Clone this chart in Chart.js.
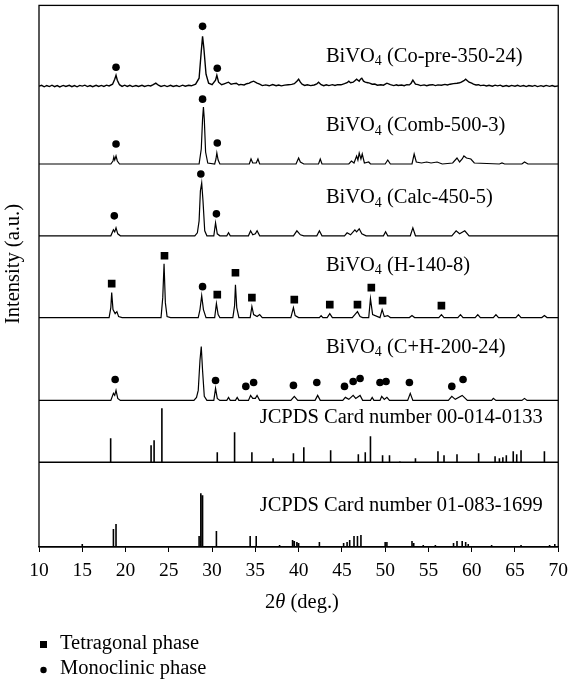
<!DOCTYPE html>
<html>
<head>
<meta charset="utf-8">
<script src="https://cdn.jsdelivr.net/npm/chart.js@4.4.0/dist/chart.umd.min.js"></script>
<style>
  html, body { margin: 0; padding: 0; background: #fff; }
  #wrap { width: 575px; height: 684px; }
</style>
</head>
<body>
<div id="wrap"><canvas id="chart" width="575" height="684"></canvas></div>
<script>
// 2θ / relative intensity pairs, one array per sample
const coPre = [[10,0],[10.3,0.9],[10.6,-0.6],[10.9,0.7],[11.2,-0.4],[11.5,1],[11.8,-0.5],[12.1,0.6],[12.4,-0.7],[12.8,0.8],[13.1,-0.3],[13.5,0.9],[13.8,-0.5],[14.1,0.6],[14.4,-0.6],[14.7,0.8],[15,0.1],[15.3,1],[15.6,-0.4],[15.9,0.7],[16.2,-0.5],[16.6,0.9],[16.9,-0.3],[17.2,0.8],[17.5,-0.2],[17.8,1],[18.1,0.3],[18.5,2],[18.75,7],[18.9,11],[19.05,6],[19.3,1.5],[19.6,-0.2],[19.9,1],[20.2,-0.3],[20.5,0.9],[20.8,-0.4],[21.2,0.7],[21.5,-0.3],[21.9,0.9],[22.2,-0.2],[22.6,0.8],[22.9,0.2],[23.2,1.5],[23.5,3],[23.8,1],[24.1,-0.2],[24.5,0.8],[24.8,-0.4],[25.2,0.9],[25.5,-0.3],[25.9,0.7],[26.2,-0.4],[26.6,1],[26.9,0],[27.3,0.9],[27.6,0.4],[28.1,2],[28.5,8],[28.75,35],[28.9,50],[29.05,38],[29.3,12],[29.6,3],[30.0,1.5],[30.4,6],[30.55,11],[30.75,4],[31.1,1.5],[31.4,2.4],[31.6,3],[31.9,4],[32.2,2],[32.5,2.6],[32.8,3],[33.1,1.2],[33.3,1.8],[33.7,1.2],[34.0,2.5],[34.3,3],[34.5,4],[34.8,5],[35.2,3],[35.5,2],[35.8,0.6],[36.2,1.3],[36.6,0.4],[37,1.6],[37.4,0.5],[37.7,1.2],[38,0.3],[38.4,1.1],[38.8,1.5],[39.2,1.8],[39.5,2.5],[39.8,5],[40.0,7],[40.2,4],[40.4,2],[40.7,0.8],[41,1.4],[41.4,0.6],[41.8,1.2],[42.1,2.2],[42.3,4],[42.6,1.5],[42.9,0.5],[43.2,1.4],[43.5,0.6],[43.9,1.5],[44.2,0.7],[44.5,1.6],[44.9,1.4],[45.3,2.5],[45.6,3.5],[45.8,5],[46.0,3.5],[46.3,4],[46.5,5.5],[46.7,7],[47.0,5],[47.15,7],[47.3,8],[47.5,5],[47.7,4],[48.0,3.5],[48.2,3],[48.5,2],[48.8,2.2],[49.1,1],[49.5,1.5],[49.8,1],[50.2,3],[50.6,1.5],[51.0,0.6],[51.3,1.4],[51.5,0.7],[51.9,1.2],[52.2,0.5],[52.5,1.5],[52.8,1.3],[53.0,3],[53.2,6],[53.5,2],[53.8,1.6],[54.1,0.6],[54.5,1.3],[54.8,0.5],[55.1,1.2],[55.5,1.5],[55.8,0.6],[56.1,1.3],[56.5,1],[56.9,1.8],[57.2,1.2],[57.5,2],[57.9,2.6],[58.3,3],[58.6,3.5],[58.8,4],[59.1,5.5],[59.3,7],[59.5,5.5],[59.7,4],[60.0,3],[60.2,2],[60.5,1.2],[60.8,1.5],[61,0.6],[61.4,1.1],[61.7,0.2],[62,0.9],[62.4,0],[62.7,1],[63,0.3],[63.3,1],[63.6,-0.2],[64,0.6],[64.3,-0.3],[64.6,0.8],[65,0],[65.3,0.9],[65.6,-0.2],[66,0.6],[66.3,-0.4],[66.6,0.7],[67,-0.1],[67.3,0.8],[67.6,-0.4],[68,0.5],[68.3,-0.3],[68.6,0.8],[69,-0.2],[69.3,0.6],[69.6,-0.3],[70,0.3]];
const comb = [[10,0],[18.3,0],[18.55,3],[18.65,7],[18.75,4],[18.9,8],[19.05,3],[19.3,0],[28.5,0],[28.75,15],[28.9,45],[29.0,57],[29.1,45],[29.25,12],[29.5,1],[30.3,0],[30.45,5],[30.55,11],[30.7,4],[30.9,0],[34.3,0],[34.5,5],[34.7,1],[35.1,1],[35.3,5],[35.5,0],[39.7,0],[40.0,6],[40.2,2],[40.6,0],[42.3,0],[42.5,5],[42.7,0],[45.8,0],[46.1,3],[46.4,1],[46.7,8],[46.85,4],[47.0,11],[47.2,5],[47.35,10],[47.6,1],[48.1,2],[48.3,0],[50.0,0],[50.3,4],[50.6,0],[53.1,0],[53.35,10],[53.6,2],[54.2,1],[54.8,2],[55.3,1],[56,2],[56.6,0],[57.8,1],[58.3,6],[58.6,2],[58.9,5],[59.1,8],[59.4,6],[59.9,5],[60.3,1],[63.2,0],[63.5,1],[63.8,0],[65.8,0],[66.1,2],[66.5,0],[70,0]];
const calc = [[10,0],[18.3,0],[18.6,6],[18.75,4],[18.9,8],[19.1,2],[19.4,0],[28.0,0],[28.3,3],[28.5,15],[28.65,45],[28.8,53],[28.95,35],[29.15,5],[29.4,0],[30.2,0],[30.4,13],[30.6,2],[30.9,0],[31.7,0],[31.9,3],[32.1,0],[34.2,0],[34.45,5],[34.7,1],[35.0,2],[35.2,5],[35.5,0],[39.4,0],[39.8,5],[40.2,1],[40.6,0],[42.1,0],[42.4,5],[42.7,0],[45.3,0],[45.6,3],[46.0,1],[46.5,6],[46.7,4],[47.0,7],[47.3,2],[47.8,0],[49.8,0],[50.05,4],[50.3,0],[52.9,0],[53.2,8],[53.5,0],[57.7,0],[58.2,5],[58.6,2],[59.2,5],[59.7,0],[70,0]];
const hydro = [[10,0],[18.1,0],[18.3,10],[18.4,25],[18.55,8],[18.8,4],[19.0,6],[19.2,1],[19.6,0],[24.1,0],[24.3,20],[24.45,54],[24.6,15],[24.8,1],[25.2,0],[28.4,0],[28.6,8],[28.8,22],[29.0,8],[29.3,0],[30.3,0],[30.5,14],[30.7,3],[30.9,0],[32.4,0],[32.6,12],[32.7,33],[32.85,10],[33.1,0],[34.4,0],[34.6,11],[34.8,3],[35.2,1],[35.5,3],[35.8,0],[39.1,0],[39.4,10],[39.6,2],[40.0,0],[42.4,0],[42.6,2],[42.8,0],[43.3,0],[43.6,4],[43.9,0],[46.2,0],[46.5,3],[46.8,6],[47.1,1],[47.4,0],[48.1,0],[48.3,19],[48.55,3],[49.4,0],[49.65,8],[49.9,1],[50.3,2],[50.6,0],[52.8,0],[53.1,2],[53.4,0],[56.2,0],[56.5,3],[56.8,0],[58.4,0],[58.7,3],[59.0,0],[60.4,0],[60.7,3],[61.0,0],[62.5,0],[62.8,3],[63.1,0],[65.1,0],[65.4,3],[65.7,0],[68.1,0],[68.4,2],[68.7,0],[70,0]];
const combHydro = [[10,0],[18.3,0],[18.6,7],[18.75,5],[18.9,10],[19.1,2],[19.4,0],[27.9,0],[28.2,3],[28.4,10],[28.6,40],[28.75,54],[28.9,30],[29.1,4],[29.4,0],[30.2,0],[30.4,12],[30.6,2],[30.9,0],[31.7,0],[31.9,3],[32.1,0],[32.7,0],[32.9,3],[33.1,0],[34.2,0],[34.45,5],[34.7,2],[35.0,2],[35.2,5],[35.5,0],[39.1,0],[39.5,4],[39.9,0],[41.9,0],[42.2,5],[42.5,0],[45.1,0],[45.4,3],[45.8,1],[46.3,5],[46.6,2],[47.1,5],[47.4,0],[48.3,0],[48.5,3],[48.7,0],[49.4,0],[49.6,4],[49.9,1],[50.2,3],[50.5,0],[52.6,0],[52.9,7],[53.2,0],[57.3,0],[57.7,4],[58.1,1],[58.9,5],[59.5,0],[62.3,0],[62.5,2],[62.8,0],[65.8,0],[66.1,2],[66.4,0],[70,0]];

// reference cards: stick positions and heights
const card1Pos = [18.28,22.95,23.3,24.2,30.6,32.6,34.6,37.05,39.4,40.6,43.7,46.9,47.7,48.3,49.7,50.5,51.7,53.5,56.1,56.8,58.3,60.8,62.7,63.2,63.6,64.0,64.8,65.2,65.7,68.4];
const card1Int = [24,17,22,54,10,30,10,4,9,15,12,8,10,26,7,7,1,4,11,7,8,9,6,4,5,7,11,8,12,11];
const card2Pos = [15.0,18.6,18.9,28.5,28.7,28.9,30.5,34.4,35.1,37.8,39.3,39.5,39.8,40.0,42.4,45.2,45.6,45.9,46.4,46.8,47.2,50.0,50.2,53.1,53.3,54.4,55.8,57.9,58.3,58.9,59.3,59.6,62.3,65.7,69.0,69.6];
const card2Int = [3,18,23,11,54,52,16,11,11,2,7,6,5,4,5,4,5,7,11,11,12,5,5,6,4,2,2,4,6,6,5,3,2,2,2,3];

// phase markers: [2θ, height above baseline]
const monoMarks = [
  [[18.9,19],[28.9,60],[30.6,18]],
  [[18.9,20],[28.9,65],[30.6,21]],
  [[18.7,20],[28.7,62],[30.5,22]],
  [[28.9,31]],
  [[18.8,21],[30.4,20],[33.9,14],[34.8,18],[39.4,15],[42.1,18],[45.3,14],[46.3,19],[47.1,22],[49.4,18],[50.1,19],[52.8,18],[57.7,14],[59.0,21]]
];
const tetraMarks = [[],[],[],
  [[18.4,34],[24.5,62],[30.6,23],[32.7,45],[34.6,20],[39.5,18],[43.6,13],[46.8,13],[48.4,30],[49.7,17],[56.5,12]],
  []];

const sampleNames = ["Co-pre-350-24", "Comb-500-3", "Calc-450-5", "H-140-8", "C+H-200-24"];
const cardNames = ["JCPDS Card number 00-014-0133", "JCPDS Card number 01-083-1699"];
const xTicks = [10, 15, 20, 25, 30, 35, 40, 45, 50, 55, 60, 65, 70];

// layout: vertical offset of each trace (plot units = px)
const baseline = [462, 384, 312, 230, 147, 85, 0];
const sampleLabelY = [30, 38, 38, 52, 53];
const cardLabelY = [45, 41];
const FONT = '"Liberation Serif", "Times New Roman", serif';
const FS = 20.5;

const samples = [coPre, comb, calc, hydro, combHydro];
const datasets = [];
samples.forEach((arr, i) => {
  datasets.push({
    data: arr.map(([x, h]) => ({ x, y: baseline[i] + h })),
    showLine: true, borderColor: "#000", borderWidth: i === 0 ? 1.4 : 1.2, pointRadius: 0, tension: 0
  });
});

function stickLine(pos, ints, base) {
  const pts = [{ x: 10, y: base }];
  pos.forEach((x, k) => {
    pts.push({ x, y: base }, { x, y: base + ints[k] }, { x, y: base });
  });
  pts.push({ x: 70, y: base });
  return pts;
}
datasets.push({ data: stickLine(card1Pos, card1Int, baseline[5]), showLine: true, borderColor: "#000", borderWidth: 1.6, pointRadius: 0 });
datasets.push({ data: stickLine(card2Pos, card2Int, baseline[6]), showLine: true, borderColor: "#000", borderWidth: 1.6, pointRadius: 0 });

const monoPts = [], tetraPts = [];
monoMarks.forEach((list, i) => list.forEach(([x, h]) => monoPts.push({ x, y: baseline[i] + h })));
tetraMarks.forEach((list, i) => list.forEach(([x, h]) => tetraPts.push({ x, y: baseline[i] + h })));
datasets.push({ data: monoPts, pointStyle: "circle", pointRadius: 3.8, backgroundColor: "#000", borderColor: "#000", borderWidth: 0 });
datasets.push({ data: tetraPts, pointStyle: "rect", pointRadius: 5.4, backgroundColor: "#000", borderColor: "#000", borderWidth: 0 });

function drawSub(ctx, x, y, pre, sub, post) {
  ctx.font = `${FS}px ${FONT}`;
  ctx.fillText(pre, x, y);
  let w = ctx.measureText(pre).width;
  ctx.font = `${Math.round(FS * 0.68)}px ${FONT}`;
  ctx.fillText(sub, x + w, y + 5);
  w += ctx.measureText(sub).width;
  ctx.font = `${FS}px ${FONT}`;
  ctx.fillText(post, x + w, y);
}

const textPlugin = {
  id: "texts",
  afterDraw(chart) {
    const { ctx, chartArea: a, scales: { x, y } } = chart;
    ctx.save();
    ctx.strokeStyle = "#000";
    ctx.lineWidth = 1.3;
    ctx.strokeRect(a.left, a.top, a.right - a.left, a.bottom - a.top);
    ctx.fillStyle = "#000";
    ctx.textBaseline = "middle";
    ctx.textAlign = "left";
    sampleNames.forEach((n, i) => {
      drawSub(ctx, x.getPixelForValue(43.15), y.getPixelForValue(baseline[i] + sampleLabelY[i]), "BiVO", "4", " (" + n + ")");
    });
    ctx.font = `${FS}px ${FONT}`;
    cardNames.forEach((n, i) => {
      ctx.fillText(n, x.getPixelForValue(35.5), y.getPixelForValue(baseline[5 + i] + cardLabelY[i]));
    });
    // x title: 2θ (deg.) with italic theta
    ctx.font = `${FS}px ${FONT}`;
    const w1 = ctx.measureText("2").width, w3 = ctx.measureText(" (deg.)").width;
    ctx.font = `italic ${FS}px ${FONT}`;
    const wTh = ctx.measureText("θ").width;
    const tx = 302 - (w1 + wTh + w3) / 2;
    ctx.fillText("θ", tx + w1, 603);
    ctx.font = `${FS}px ${FONT}`;
    ctx.fillText("2", tx, 603);
    ctx.fillText(" (deg.)", tx + w1 + wTh, 603);
    // y title
    ctx.save();
    ctx.translate(14, 264);
    ctx.rotate(-Math.PI / 2);
    ctx.textAlign = "center";
    ctx.fillText("Intensity (a.u.)", 0, 0);
    ctx.restore();
    // legend
    ctx.fillRect(40, 641, 7, 7);
    ctx.beginPath();
    ctx.arc(43.5, 670, 3.2, 0, Math.PI * 2);
    ctx.fill();
    ctx.fillText("Tetragonal phase", 60, 644);
    ctx.fillText("Monoclinic phase", 60, 669);
    ctx.restore();
  }
};

new Chart(document.getElementById("chart"), {
  type: "scatter",
  data: { datasets },
  options: {
    responsive: false,
    animation: false,
    devicePixelRatio: 1,
    layout: { padding: { left: 39, right: 9, top: 4, bottom: 107 } },
    plugins: { legend: { display: false }, tooltip: { enabled: false } },
    scales: {
      x: {
        type: "linear", min: 10, max: 70,
        afterFit(s) { s.height = 30; },
        afterBuildTicks(s) { s.ticks = xTicks.map(v => ({ value: v })); },
        grid: { drawOnChartArea: false, drawTicks: true, tickLength: 5, color: "#000", lineWidth: 1 },
        border: { color: "#000", width: 1.3 },
        ticks: { color: "#000", font: { family: FONT, size: 19.5 }, padding: 7, maxRotation: 0 }
      },
      y: { display: false, min: 0, max: 543 }
    }
  },
  plugins: [textPlugin]
});
</script>
</body>
</html>
